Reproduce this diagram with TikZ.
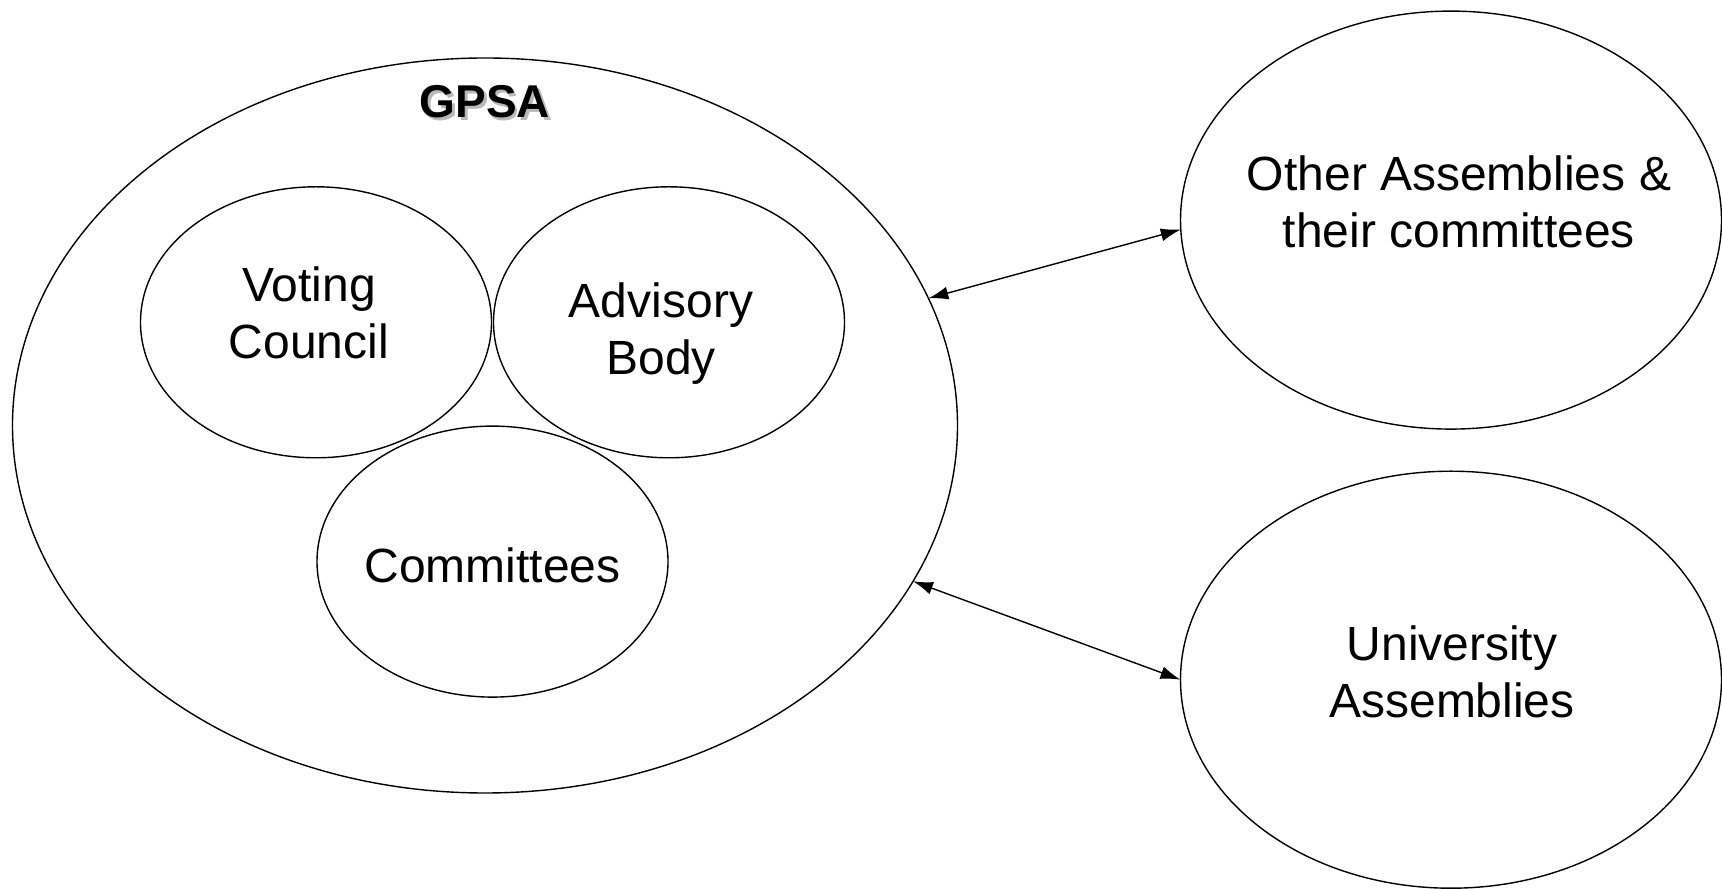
\documentclass[tikz,border=0pt]{standalone}
\usepackage{fontspec}
\setmainfont{Liberation Sans}
\usetikzlibrary{shapes.geometric,arrows.meta}
\tikzset{
  blob/.style={draw, ellipse, line width=1.4pt, inner sep=0pt, outer sep=0pt},
  lbl/.style={align=center, font=\fontsize{48}{57}\selectfont},
  link/.style={{Latex[length=20pt,width=13pt]}-{Latex[length=20pt,width=13pt]}, line width=1.4pt}
}
\begin{document}
\begin{tikzpicture}[x=1pt,y=1pt]
 \useasboundingbox (0,0) rectangle (1722,889);
 % the assembly and its parts
 \node[blob, minimum width=945pt, minimum height=735pt] (gpsa) at (485,463.5) {};
 \node[blob, minimum width=351pt, minimum height=271pt] (vc) at (316,566.7) {};
 \node[blob, minimum width=351pt, minimum height=271pt] (ab) at (669,566.7) {};
 \node[blob, minimum width=351pt, minimum height=271pt] (cm) at (492.5,327.4) {};
 % outside bodies
 \node[blob, minimum width=541pt, minimum height=418pt] (oa) at (1451,668.9) {};
 \node[blob, minimum width=541pt, minimum height=417pt] (ua) at (1451,209.3) {};
 % labels
 \node[lbl, font=\fontsize{46}{57}\selectfont\bfseries, text=gray!55] at (487.5,784) {GPSA};
 \node[lbl, font=\fontsize{46}{57}\selectfont\bfseries] (gpsat) at (485,787) {GPSA};
 \node[lbl] (vct) at (309,576) {Voting\\Council};
 \node[lbl] (abt) at (661,555.5) {Advisory\\Body};
 \node[lbl] (cmt) at (492.5,323.5) {Committees};
 \node[lbl] (oat) at (1459,687) {Other Assemblies \&\\their committees};
 \node[lbl] (uat) at (1452,217.6) {University\\Assemblies};
 % links
 \draw[link] (gpsa.16.3) -- (oa.182.9);
 \draw[link] (gpsa.-20.8) -- (ua.180.2);
\end{tikzpicture}
\end{document}
